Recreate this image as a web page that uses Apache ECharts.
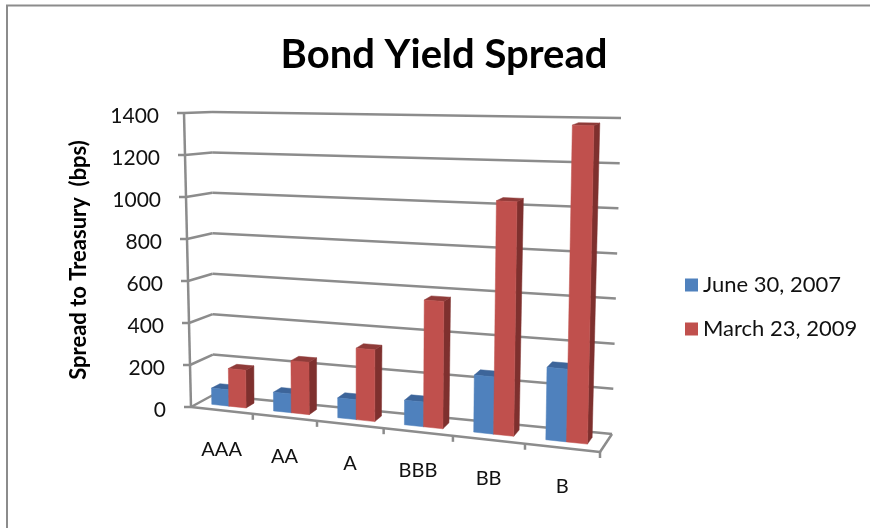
<!DOCTYPE html>
<html>
<head>
<meta charset="utf-8">
<style>html,body{margin:0;padding:0;background:#fff}#chart{width:870px;height:528px}</style>
<script src="https://cdn.jsdelivr.net/npm/echarts@6/dist/echarts.min.js"></script>
</head>
<body>
<div id="chart"></div>
<script>
const categories = ['AAA', 'AA', 'A', 'BBB', 'BB', 'B'];
const june2007 = [78, 88, 92, 112, 255, 318];
const march2009 = [180, 245, 330, 575, 1040, 1385];
const seriesNames = ['June 30, 2007', 'March 23, 2009'];
const valueTicks = [0, 200, 400, 600, 800, 1000, 1200, 1400];

const FONT = 'Lato';
const GRID_COLOR = '#8c8c8c';

// Corners of the 3D plot box on screen: [front/back][left/right][floor/ceiling]
const BOX = {
  fl0: [191, 407], fl1: [184, 113],
  bl0: [213, 395], bl1: [212, 112],
  fr0: [600, 452], fr1: [606, 125],
  br0: [612, 434], br1: [621, 118]
};
const PERSPECTIVE = 1.123;

function mix(a, b, t) { return [a[0] + (b[0] - a[0]) * t, a[1] + (b[1] - a[1]) * t]; }
function warp(u) { return u / (PERSPECTIVE + (1 - PERSPECTIVE) * u); }

// Maps width (u), depth (d) and height (t), each 0..1, onto the screen.
function project(u, d, t) {
  const w = warp(u);
  const floor = mix(mix(BOX.fl0, BOX.fr0, w), mix(BOX.bl0, BOX.br0, w), d);
  const ceil = mix(mix(BOX.fl1, BOX.fr1, w), mix(BOX.bl1, BOX.br1, w), d);
  return mix(floor, ceil, t);
}

function face(points, fill) {
  return { type: 'polygon', shape: { points: points }, style: { fill: fill, stroke: fill, lineWidth: 0.5 } };
}
function segment(a, b, width) {
  return {
    type: 'line',
    shape: { x1: a[0], y1: a[1], x2: b[0], y2: b[1] },
    style: { stroke: GRID_COLOR, lineWidth: width || 2.5 }
  };
}
function label(text, x, y, align, size) {
  return {
    type: 'text',
    style: { text: text, x: x, y: y, align: align, verticalAlign: 'middle', fill: '#111', font: size + 'px ' + FONT }
  };
}

const BAR_SHARE = 0.28;
const DEPTH = [0.34, 0.72];

// One bar per data row; `slot` is 0 for the left bar of a cluster, 1 for the right one.
function barRenderer(slot, colors) {
  return function (params, api) {
    const cs = params.coordSys;
    const top = api.coord([api.value(0), api.value(1)]);
    const catWidth = api.size([1, 0])[0];
    const t = (cs.y + cs.height - top[1]) / cs.height;
    const uMid = (top[0] - cs.x) / cs.width;
    const uBar = catWidth * BAR_SHARE / cs.width;
    const u0 = uMid - uBar + slot * uBar;
    const u1 = u0 + uBar;
    const [d0, d1] = DEPTH;
    return {
      type: 'group',
      children: [
        face([project(u1, d0, 0), project(u1, d1, 0), project(u1, d1, t), project(u1, d0, t)], colors.side),
        face([project(u0, d0, t), project(u1, d0, t), project(u1, d1, t), project(u0, d1, t)], colors.top),
        face([project(u0, d0, 0), project(u1, d0, 0), project(u1, d0, t), project(u0, d0, t)], colors.front)
      ]
    };
  };
}

// Walls, floor, gridlines, ticks and axis texts.
function renderFrame(params, api) {
  const cs = params.coordSys;
  const children = [];
  valueTicks.forEach(function (v) {
    const t = (cs.y + cs.height - api.coord([0, v])[1]) / cs.height;
    const front = project(0, 0, t);
    children.push(segment(front, project(0, 1, t)));
    children.push(segment(project(0, 1, t), project(1, 1, t)));
    children.push(segment([front[0] - 7, front[1]], front));
    children.push(label(String(v), front[0] - 25, front[1] + 3, 'right', 21));
  });
  children.push(segment(project(0, 0, 0), project(0, 0, 1)));
  children.push(segment(project(0, 0, 0), project(1, 0, 0)));
  children.push(segment(project(1, 0, 0), project(1, 1, 0)));
  categories.forEach(function (name, i) {
    const edge = project((i + 1) / categories.length, 0, 0);
    children.push(segment(edge, [edge[0], edge[1] + 6]));
    const mid = project((i + 0.5) / categories.length, 0, 0);
    children.push(label(name, mid[0], mid[1] + 39, 'center', 20));
  });
  return { type: 'group', children: children };
}

const chart = echarts.init(document.getElementById('chart'));
chart.setOption({
  animation: false,
  backgroundColor: '#fff',
  title: {
    text: 'Bond Yield Spread',
    left: 439,
    top: 30,
    textAlign: 'center',
    textStyle: { fontFamily: FONT, fontWeight: 'bold', fontSize: 40, color: '#000' }
  },
  legend: {
    left: 685,
    top: 274,
    padding: 0,
    orient: 'vertical',
    icon: 'rect',
    itemWidth: 13,
    itemHeight: 13,
    itemGap: 22,
    data: seriesNames,
    textStyle: { fontFamily: FONT, fontSize: 22, color: '#111' }
  },
  grid: { left: 191, top: 113, width: 409, height: 294 },
  xAxis: { type: 'category', data: categories, show: false },
  yAxis: {
    type: 'value',
    min: 0,
    max: 1400,
    interval: 200,
    name: 'Spread to Treasury  (bps)',
    nameLocation: 'middle',
    nameGap: 101,
    nameTextStyle: { fontFamily: FONT, fontWeight: 'bold', fontSize: 22, color: '#000' },
    axisLine: { show: false },
    axisTick: { show: false },
    axisLabel: { show: false },
    splitLine: { show: false }
  },
  graphic: [
    { type: 'polyline', silent: true, shape: { points: [[7, 528], [7, 5.5], [870, 5.5]] }, style: { stroke: '#8c8c8c', lineWidth: 2, fill: null } }
  ],
  series: [
    { type: 'custom', silent: true, z: 1, renderItem: renderFrame, data: [0], encode: { x: 0, y: 0 }, legendHoverLink: false, coordinateSystem: 'cartesian2d' },
    {
      name: seriesNames[0], type: 'custom', z: 2, itemStyle: { color: '#4F81BD' },
      renderItem: barRenderer(0, { front: '#4F81BD', side: '#375E8C', top: '#3D659A' }),
      data: categories.map(function (c, i) { return [i, june2007[i]]; })
    },
    {
      name: seriesNames[1], type: 'custom', z: 3, itemStyle: { color: '#C0504D' },
      renderItem: barRenderer(1, { front: '#C0504D', side: '#7E302E', top: '#8F3B39' }),
      data: categories.map(function (c, i) { return [i, march2009[i]]; })
    }
  ]
});
</script>
</body>
</html>
